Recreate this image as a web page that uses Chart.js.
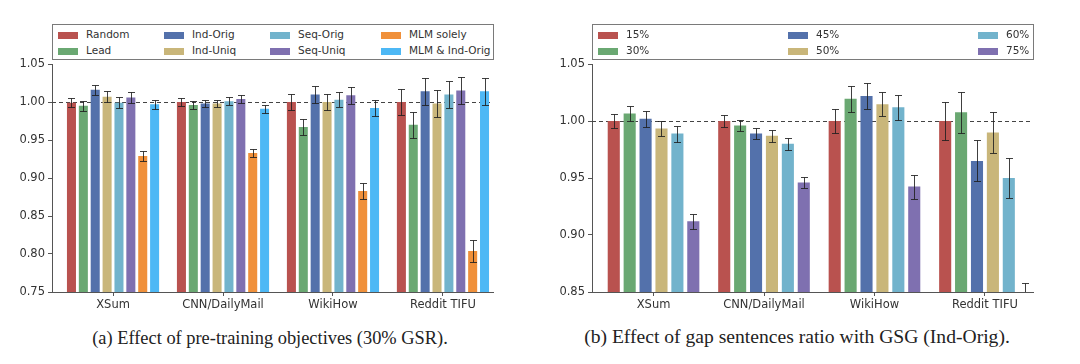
<!DOCTYPE html>
<html>
<head>
<meta charset="utf-8">
<script src="https://cdn.jsdelivr.net/npm/chart.js@4.4.1/dist/chart.umd.min.js"></script>
<style>
  body { margin: 0; background: #fff; width: 1080px; height: 364px; position: relative; overflow: hidden; }
  .wrap { position: absolute; top: 0; width: 540px; height: 320px; }
  .legend { position: absolute; top: 24px; height: 34px; width: 440px; border: 1px solid #7a7a7a; background: #fff;
            font: 10.5px "DejaVu Sans", sans-serif; color: #333; }
  .item { position: absolute; height: 12px; line-height: 12px; white-space: nowrap; }
  .sw { display: inline-block; width: 20px; height: 7px; margin-right: 8px; vertical-align: -0.5px; }
  .caption { position: absolute; top: 327px; font-family: "Liberation Serif", "Times New Roman", serif; color: #222;
             text-align: center; width: 540px; line-height: 22px; }
</style>
</head>
<body>
<div class="wrap" style="left:0"><canvas id="objChart"></canvas></div>
<div class="wrap" style="left:540px"><canvas id="gsrChart"></canvas></div>
<div class="legend" id="objLegend" style="left:52px"></div>
<div class="legend" id="gsrLegend" style="left:592px"></div>
<div class="caption" style="left:0; font-size:18.4px">(a) Effect of pre-training objectives (30% GSR).</div>
<div class="caption" style="left:527px; font-size:19.6px; top:326px">(b) Effect of gap sentences ratio with GSG (Ind-Orig).</div>

<script>
// Datasets on the x axis
const groups = ["XSum", "CNN/DailyMail", "WikiHow", "Reddit TIFU"];

// (a) pre-training objectives, relative scores and error bars
const objLabels = ["Random", "Lead", "Ind-Orig", "Ind-Uniq", "Seq-Orig", "Seq-Uniq", "MLM solely", "MLM & Ind-Orig"];
const randomVals = [0.999, 1.000, 1.000, 1.000];
const randomErr = [0.006, 0.005, 0.010, 0.0175];
const leadVals = [0.995, 0.996, 0.967, 0.970];
const leadErr = [0.0065, 0.005, 0.011, 0.017];
const indOrigVals = [1.016, 0.998, 1.010, 1.014];
const indOrigErr = [0.007, 0.005, 0.011, 0.018];
const indUniqVals = [1.007, 0.998, 1.000, 0.998];
const indUniqErr = [0.007, 0.005, 0.010, 0.018];
const seqOrigVals = [0.999, 1.001, 1.003, 1.010];
const seqOrigErr = [0.007, 0.005, 0.010, 0.018];
const seqUniqVals = [1.006, 1.004, 1.009, 1.015];
const seqUniqErr = [0.007, 0.005, 0.011, 0.018];
const mlmVals = [0.929, 0.933, 0.883, 0.804];
const mlmErr = [0.006, 0.005, 0.011, 0.015];
const mlmIndVals = [0.997, 0.991, 0.992, 1.014];
const mlmIndErr = [0.006, 0.005, 0.010, 0.018];

// (b) gap sentences ratio
const gsrLabels = ["15%", "30%", "45%", "50%", "60%", "75%"];
const gsr15Vals = [1.000, 1.000, 1.000, 1.000];
const gsr15Err = [0.006, 0.005, 0.0105, 0.017];
const gsr30Vals = [1.0065, 0.996, 1.0195, 1.0077];
const gsr30Err = [0.0068, 0.005, 0.0115, 0.0178];
const gsr45Vals = [1.002, 0.989, 1.022, 0.965];
const gsr45Err = [0.007, 0.005, 0.0115, 0.018];
const gsr50Vals = [0.9935, 0.987, 1.0147, 0.990];
const gsr50Err = [0.0066, 0.005, 0.0107, 0.0177];
const gsr60Vals = [0.989, 0.980, 1.012, 0.950];
const gsr60Err = [0.007, 0.005, 0.011, 0.0175];
const gsr75Vals = [0.912, 0.946, 0.9425, 0.840];
const gsr75Err = [0.0065, 0.005, 0.0105, 0.018];

// colours (seaborn-ish)
const palette = ["#b9524f", "#6aa872", "#5371ab", "#c9b67a", "#72b3cc", "#7f70b0", "#f0903a", "#4db8f5"];

const tickFont = { family: "'DejaVu Sans', sans-serif", size: 11.5 };
const axisColor = "#555";

// dashed reference line at 1.00, behind the bars
const refLine = {
  id: "refLine",
  beforeDatasetsDraw: (chart) => {
    const ctx = chart.ctx;
    const y = chart.scales.y.getPixelForValue(1.0);
    const a = chart.chartArea;
    ctx.save();
    ctx.strokeStyle = "#444";
    ctx.lineWidth = 1;
    ctx.setLineDash([4, 3]);
    ctx.beginPath();
    ctx.moveTo(a.left, Math.round(y) + 0.5);
    ctx.lineTo(a.right, Math.round(y) + 0.5);
    ctx.stroke();
    ctx.restore();
  },
};

// error bars drawn on top of each bar
const errorBars = {
  id: "errorBars",
  afterDatasetsDraw: (chart) => {
    const ctx = chart.ctx;
    const ys = chart.scales.y;
    const a = chart.chartArea;
    ctx.save();
    ctx.beginPath();
    ctx.rect(a.left, a.top - 2, a.right - a.left + 6, a.bottom - a.top + 2);
    ctx.clip();
    ctx.strokeStyle = "rgba(30,30,30,0.85)";
    ctx.lineWidth = 1;
    chart.data.datasets.forEach((ds, i) => {
      const meta = chart.getDatasetMeta(i);
      meta.data.forEach((bar, j) => {
        const v = ds.data[j].y;
        const e = ds.errors[j];
        const x = Math.round(bar.x) + 0.5;
        const yt = Math.round(ys.getPixelForValue(v + e)) + 0.5;
        const yb = Math.round(ys.getPixelForValue(v - e)) + 0.5;
        ctx.beginPath();
        ctx.moveTo(x, yt);
        ctx.lineTo(x, yb);
        ctx.moveTo(x - 3.5, yt);
        ctx.lineTo(x + 3.5, yt);
        ctx.moveTo(x - 3.5, yb);
        ctx.lineTo(x + 3.5, yb);
        ctx.stroke();
      });
    });
    ctx.restore();
  },
};

function makeDatasets(labels, vals, errs) {
  return labels.map((label, k) => ({
    label: label,
    data: groups.map((g, i) => ({ x: i, y: vals[k][i] })),
    errors: errs[k],
    backgroundColor: palette[k],
    borderWidth: 0,
  }));
}

function makeChart(id, datasets, yMin, xMin, xMax) {
  return new Chart(document.getElementById(id), {
    type: "bar",
    data: { datasets: datasets },
    options: {
      responsive: false,
      animation: false,
      categoryPercentage: 0.864,
      barPercentage: 0.76,
      layout: { padding: { left: 0, right: 47, top: 64, bottom: 0 } },
      plugins: { legend: { display: false }, tooltip: { enabled: false } },
      scales: {
        x: {
          type: "linear",
          min: xMin,
          max: xMax,
          offset: false,
          afterFit: (s) => { s.height = 28; },
          grid: { offset: false, drawOnChartArea: false, tickLength: 4, color: axisColor },
          border: { color: axisColor },
          ticks: {
            stepSize: 1,
            includeBounds: false,
            autoSkip: false,
            maxRotation: 0,
            padding: 2,
            color: "#333",
            font: tickFont,
            callback: (v) => (Number.isInteger(v) ? groups[v] : ""),
          },
        },
        y: {
          min: yMin,
          max: 1.05,
          afterFit: (s) => { s.width = 52; },
          grid: { drawOnChartArea: false, tickLength: 4, color: axisColor },
          border: { color: axisColor },
          ticks: {
            stepSize: 0.05,
            padding: 3,
            color: "#333",
            font: tickFont,
            callback: (v) => v.toFixed(2),
          },
        },
      },
    },
    plugins: [refLine, errorBars],
  });
}

function setSize(id) {
  const c = document.getElementById(id);
  c.width = 540;
  c.height = 320;
  c.style.width = "540px";
  c.style.height = "320px";
}
setSize("objChart");
setSize("gsrChart");

const objChart = makeChart(
  "objChart",
  makeDatasets(
    objLabels,
    [randomVals, leadVals, indOrigVals, indUniqVals, seqOrigVals, seqUniqVals, mlmVals, mlmIndVals],
    [randomErr, leadErr, indOrigErr, indUniqErr, seqOrigErr, seqUniqErr, mlmErr, mlmIndErr]
  ),
  0.75, -0.555, 3.455
);

const gsrChart = makeChart(
  "gsrChart",
  makeDatasets(
    gsrLabels,
    [gsr15Vals, gsr30Vals, gsr45Vals, gsr50Vals, gsr60Vals, gsr75Vals],
    [gsr15Err, gsr30Err, gsr45Err, gsr50Err, gsr60Err, gsr75Err]
  ),
  0.85, -0.557, 3.435
);

// matplotlib-style legend, filled column by column
function buildLegend(elId, chart, colLefts) {
  const box = document.getElementById(elId);
  chart.data.datasets.forEach((ds, k) => {
    const item = document.createElement("div");
    item.className = "item";
    item.style.left = colLefts[Math.floor(k / 2)] + "px";
    item.style.top = (k % 2 === 0 ? 3 : 19) + "px";
    item.innerHTML = `<span class="sw" style="background:${ds.backgroundColor}"></span>${ds.label}`;
    box.appendChild(item);
  });
}
buildLegend("objLegend", objChart, [5, 111, 217, 328]);
buildLegend("gsrLegend", gsrChart, [5, 195, 385]);
</script>
</body>
</html>
